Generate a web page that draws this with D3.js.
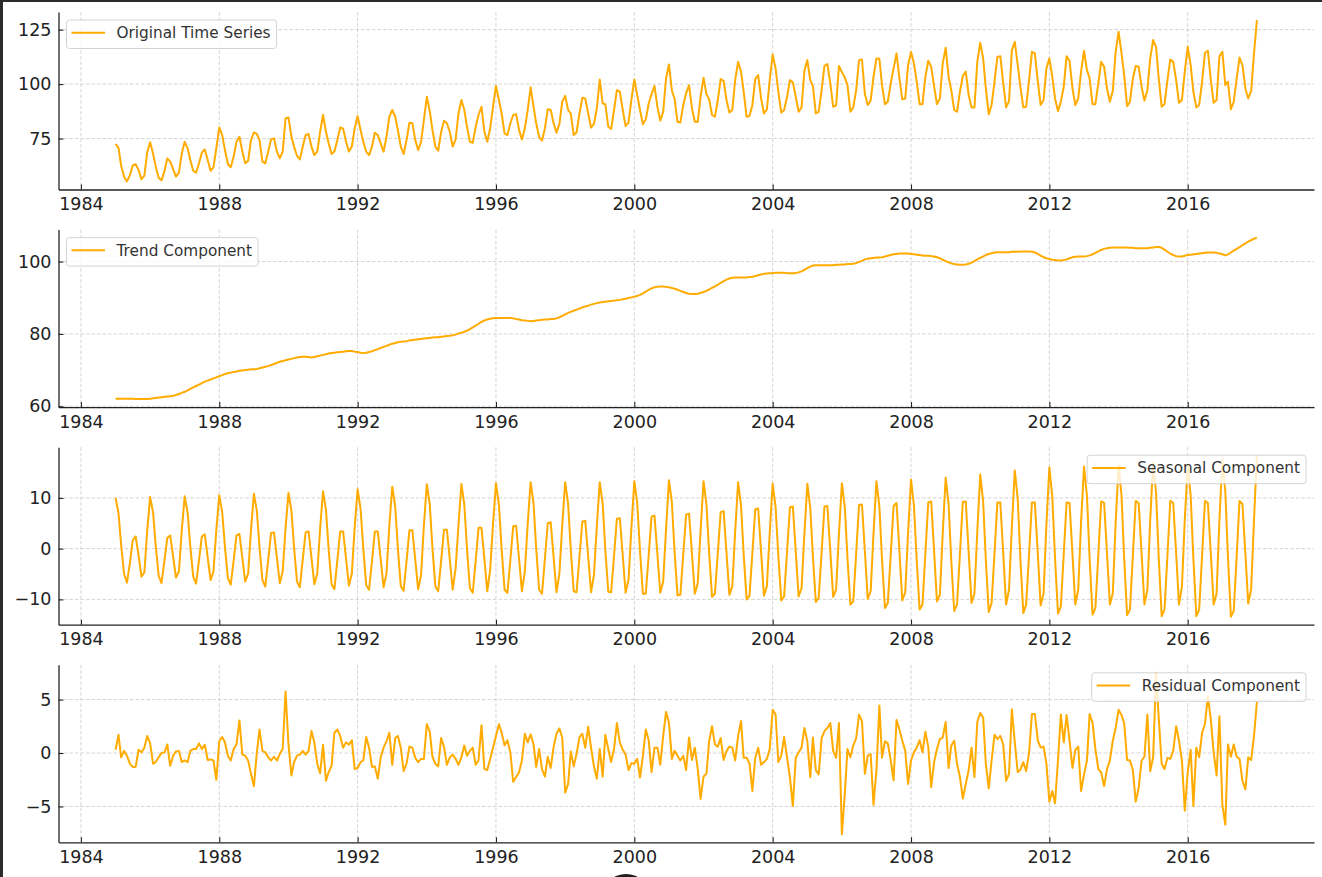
<!DOCTYPE html>
<html>
<head>
<meta charset="utf-8">
<script src="https://d3js.org/d3.v7.min.js"></script>
<style>
  body { margin: 0; background: #fff; overflow: hidden; }
  text { font-family: "DejaVu Sans", sans-serif; }
</style>
</head>
<body>
<div id="chart"></div>
<script>
// monthly series, Jan 1985 .. Jan 2018 (one row per year)
var startDate = new Date(1985, 0, 1);

var original = [
  72.5, 70.7, 62.5, 57.5, 55.3, 58.1, 62.6, 63.2, 60.6, 56.3, 58.0, 68.7,
  73.3, 68.0, 62.2, 57.0, 55.8, 59.9, 65.8, 64.5, 61.0, 57.5, 59.3, 68.1,
  73.5, 70.5, 65.1, 60.2, 59.3, 63.6, 68.5, 70.0, 65.1, 60.2, 61.8, 70.5,
  80.1, 76.6, 69.7, 63.3, 61.8, 66.7, 73.5, 75.8, 69.0, 63.6, 64.8, 74.3,
  77.8, 77.1, 74.3, 64.4, 63.6, 69.0, 74.6, 75.1, 69.0, 65.9, 69.0, 84.2,
  84.7, 75.8, 71.3, 67.0, 65.4, 71.3, 76.6, 77.1, 71.3, 67.4, 69.0, 78.1,
  85.8, 78.1, 72.8, 67.9, 69.0, 74.3, 80.1, 79.5, 73.5, 69.0, 71.3, 79.7,
  85.3, 78.9, 73.5, 69.0, 67.4, 71.3, 77.7, 76.6, 72.8, 69.0, 75.8, 85.0,
  88.1, 85.0, 78.9, 71.3, 67.9, 74.3, 82.3, 82.0, 74.3, 69.7, 73.5, 83.5,
  94.2, 87.5, 79.0, 71.3, 69.4, 78.0, 83.2, 82.0, 78.0, 71.3, 74.6, 86.5,
  92.7, 88.1, 80.4, 73.5, 73.1, 80.4, 85.8, 89.6, 78.1, 73.5, 79.7, 89.6,
  99.1, 92.7, 86.5, 77.4, 76.6, 82.0, 85.8, 86.2, 78.9, 74.6, 79.7, 88.1,
  98.5, 89.6, 82.0, 75.8, 74.0, 79.7, 88.5, 88.1, 82.0, 77.7, 81.7, 91.9,
  94.6, 88.1, 86.5, 76.6, 77.8, 86.5, 93.7, 93.4, 86.5, 80.0, 81.7, 88.8,
  102.1, 91.1, 90.8, 80.4, 79.4, 88.1, 97.2, 96.5, 88.1, 80.7, 82.3, 92.7,
  102.1, 95.0, 88.1, 81.5, 83.8, 91.1, 95.4, 99.1, 89.6, 83.2, 87.3, 102.6,
  109.0, 96.9, 93.4, 82.7, 82.4, 90.4, 95.7, 99.5, 88.8, 82.7, 82.7, 94.2,
  102.9, 95.4, 93.1, 85.8, 85.0, 92.7, 102.3, 101.5, 92.7, 86.9, 88.1, 101.8,
  110.2, 105.7, 96.5, 85.0, 85.3, 90.4, 102.3, 104.1, 93.4, 86.5, 88.4, 101.8,
  113.6, 107.2, 96.5, 86.9, 88.1, 94.2, 101.8, 100.8, 94.2, 87.3, 89.3, 106.1,
  111.0, 101.8, 99.1, 86.5, 87.2, 97.2, 108.4, 109.2, 100.3, 89.6, 90.2, 108.3,
  105.5, 103.0, 99.5, 87.3, 89.3, 97.2, 111.0, 111.3, 95.4, 90.4, 92.4, 103.4,
  111.8, 111.6, 99.5, 90.8, 91.9, 100.3, 107.2, 114.1, 102.6, 93.0, 93.4, 108.7,
  114.8, 109.5, 101.1, 90.8, 90.8, 103.4, 110.7, 108.0, 98.8, 90.8, 93.4, 109.5,
  116.7, 103.4, 97.2, 88.1, 87.3, 96.5, 103.7, 105.7, 95.0, 89.3, 89.3, 110.2,
  119.0, 111.8, 98.0, 86.2, 90.4, 101.1, 112.5, 112.8, 100.3, 89.3, 92.2, 115.6,
  119.4, 108.7, 98.8, 89.3, 89.6, 101.8, 114.8, 114.1, 101.1, 90.4, 92.7, 107.2,
  111.8, 103.4, 93.4, 87.6, 91.9, 98.8, 112.8, 110.7, 98.0, 90.4, 93.4, 105.7,
  115.3, 106.4, 102.6, 90.8, 90.8, 100.3, 110.2, 108.0, 98.0, 91.9, 96.9, 114.8,
  124.0, 114.1, 104.1, 89.9, 91.9, 102.6, 108.3, 108.0, 98.8, 92.4, 97.2, 111.8,
  120.2, 117.1, 102.6, 89.6, 90.8, 101.8, 111.3, 110.2, 101.8, 91.4, 92.7, 105.7,
  117.1, 108.7, 96.5, 89.3, 90.4, 101.1, 114.4, 115.3, 101.8, 91.4, 92.7, 112.8,
  114.8, 99.5, 101.1, 88.4, 91.9, 102.6, 112.2, 108.7, 98.0, 93.4, 96.9, 114.1,
  129.4
];

var trend = [
  62.1, 62.1, 62.1, 62.1, 62.1, 62.1, 62.1, 62.0, 62.0, 62.0, 62.0, 62.0,
  62.1, 62.2, 62.3, 62.4, 62.5, 62.6, 62.7, 62.8, 62.9, 63.1, 63.4, 63.7,
  64.0, 64.4, 64.8, 65.2, 65.6, 66.0, 66.4, 66.8, 67.1, 67.4, 67.7, 68.0,
  68.3, 68.6, 68.9, 69.1, 69.3, 69.5, 69.6, 69.8, 69.9, 70.0, 70.1, 70.2,
  70.2, 70.3, 70.5, 70.7, 70.9, 71.1, 71.4, 71.7, 72.0, 72.3, 72.5, 72.7,
  72.9, 73.1, 73.3, 73.5, 73.6, 73.7, 73.7, 73.6, 73.5, 73.6, 73.8, 74.0,
  74.2, 74.4, 74.6, 74.7, 74.8, 74.9, 75.0, 75.1, 75.2, 75.3, 75.3, 75.1,
  75.0, 74.8, 74.7, 74.8, 75.0, 75.2, 75.5, 75.8, 76.1, 76.4, 76.7, 77.0,
  77.3, 77.5, 77.7, 77.8, 77.9, 78.0, 78.2, 78.3, 78.4, 78.5, 78.6, 78.7,
  78.8, 78.9, 79.0, 79.1, 79.1, 79.2, 79.3, 79.4, 79.5, 79.6, 79.8, 80.1,
  80.3, 80.6, 80.9, 81.3, 81.8, 82.3, 82.8, 83.3, 83.7, 84.0, 84.2, 84.3,
  84.4, 84.4, 84.4, 84.4, 84.4, 84.4, 84.3, 84.1, 84.0, 83.8, 83.7, 83.6,
  83.5, 83.6, 83.7, 83.8, 83.9, 84.0, 84.0, 84.1, 84.1, 84.3, 84.6, 85.0,
  85.4, 85.8, 86.1, 86.4, 86.7, 87.0, 87.3, 87.6, 87.8, 88.1, 88.3, 88.5,
  88.7, 88.8, 88.9, 89.0, 89.1, 89.2, 89.3, 89.4, 89.6, 89.7, 89.9, 90.1,
  90.3, 90.5, 90.8, 91.2, 91.7, 92.2, 92.6, 92.9, 93.0, 93.1, 93.1, 93.0,
  92.9, 92.7, 92.5, 92.2, 91.9, 91.6, 91.3, 91.1, 91.0, 91.0, 91.1, 91.3,
  91.6, 91.9, 92.3, 92.7, 93.1, 93.6, 94.1, 94.6, 95.0, 95.3, 95.5, 95.6,
  95.6, 95.6, 95.6, 95.6, 95.7, 95.8, 96.0, 96.2, 96.4, 96.6, 96.7, 96.8,
  96.8, 96.9, 96.9, 96.9, 96.9, 96.8, 96.8, 96.8, 96.8, 97.0, 97.3, 97.7,
  98.2, 98.6, 98.9, 99.0, 99.0, 99.0, 99.0, 99.0, 99.0, 99.0, 99.1, 99.1,
  99.2, 99.2, 99.3, 99.3, 99.4, 99.6, 99.9, 100.2, 100.6, 100.8, 100.9, 101.0,
  101.1, 101.1, 101.2, 101.4, 101.6, 101.8, 102.0, 102.1, 102.2, 102.2, 102.2, 102.2,
  102.1, 102.0, 101.9, 101.8, 101.7, 101.6, 101.6, 101.5, 101.4, 101.2, 100.9, 100.5,
  100.1, 99.8, 99.5, 99.3, 99.2, 99.1, 99.1, 99.2, 99.4, 99.7, 100.1, 100.6,
  101.0, 101.4, 101.8, 102.1, 102.3, 102.5, 102.6, 102.6, 102.6, 102.6, 102.6, 102.7,
  102.7, 102.7, 102.8, 102.8, 102.8, 102.8, 102.7, 102.5, 102.1, 101.6, 101.2, 100.9,
  100.7, 100.5, 100.4, 100.3, 100.3, 100.4, 100.6, 100.9, 101.2, 101.3, 101.4, 101.4,
  101.4, 101.5, 101.7, 102.0, 102.4, 102.8, 103.2, 103.5, 103.7, 103.8, 103.9, 103.9,
  103.9, 103.9, 103.9, 103.9, 103.8, 103.8, 103.7, 103.7, 103.7, 103.7, 103.7, 103.8,
  103.9, 104.0, 104.0, 103.8, 103.3, 102.7, 102.2, 101.8, 101.5, 101.4, 101.4, 101.6,
  101.8, 101.9, 102.0, 102.1, 102.2, 102.3, 102.4, 102.5, 102.5, 102.5, 102.4, 102.2,
  102.0, 101.7, 102.0, 102.5, 103.0, 103.5, 104.0, 104.5, 105.0, 105.5, 105.9, 106.3,
  106.6
];

var seasonal = [
  10.0, 7.0, 0.7, -5.0, -6.7, -2.9, 1.6, 2.4, -1.3, -5.5, -4.7, 3.5,
  10.2, 7.1, 0.6, -5.3, -6.8, -2.4, 2.1, 2.6, -1.6, -5.7, -4.5, 3.6,
  10.3, 7.1, 0.5, -5.5, -6.9, -2.3, 2.4, 2.8, -1.7, -6.2, -4.5, 3.7,
  10.5, 7.2, 0.4, -5.8, -7.1, -2.3, 2.6, 2.9, -1.8, -6.5, -4.9, 3.7,
  10.8, 7.4, 0.3, -6.2, -7.5, -2.2, 3.1, 3.2, -1.8, -6.8, -4.5, 4.0,
  11.0, 7.5, 0.2, -6.5, -7.6, -2.1, 3.2, 3.4, -1.8, -7.0, -4.9, 4.0,
  11.3, 7.6, -0.1, -7.0, -8.0, -2.3, 3.4, 3.4, -2.0, -7.3, -4.9, 4.2,
  11.7, 7.9, 0.0, -7.2, -8.1, -2.4, 3.4, 3.4, -2.1, -7.6, -4.9, 4.5,
  12.2, 8.3, 0.1, -7.4, -8.3, -2.4, 3.6, 3.6, -2.2, -8.0, -5.2, 4.6,
  12.7, 8.7, 0.2, -7.4, -8.4, -2.4, 3.7, 3.7, -2.2, -8.1, -3.9, 4.5,
  12.75, 8.6, 0.0, -7.8, -8.7, -2.3, 4.1, 4.1, -2.1, -8.4, -4.2, 4.8,
  12.9, 8.7, -0.1, -8.1, -8.7, -2.2, 4.4, 4.5, -2.0, -8.4, -4.5, 4.8,
  13.1, 8.9, 0.0, -8.1, -8.9, -2.0, 5.0, 5.2, -1.7, -8.6, -4.9, 4.6,
  13.1, 8.8, -0.2, -8.4, -8.6, -1.6, 5.3, 5.5, -1.6, -8.6, -5.2, 4.4,
  13.1, 8.8, -0.3, -8.5, -8.6, -1.4, 5.9, 6.0, -1.4, -8.7, -6.1, 4.0,
  13.3, 8.9, -0.5, -8.9, -8.9, -1.3, 6.3, 6.5, -1.1, -8.7, -6.5, 3.8,
  13.5, 9.0, -0.6, -9.2, -9.1, -1.2, 6.7, 6.9, -1.0, -8.9, -6.8, 3.6,
  13.3, 8.7, -0.8, -9.5, -8.9, -0.8, 7.2, 7.4, -0.9, -9.1, -7.4, 3.3,
  13.1, 8.5, -1.2, -10.0, -9.3, -0.8, 7.7, 7.9, -0.7, -9.3, -7.4, 3.1,
  12.8, 8.2, -1.5, -10.2, -9.4, -0.6, 8.1, 8.3, -0.6, -9.4, -7.8, 2.9,
  12.8, 8.1, -1.6, -10.5, -9.7, -0.7, 8.3, 8.4, -0.6, -9.5, -8.1, 2.9,
  12.9, 8.1, -1.9, -11.0, -10.4, -0.9, 8.6, 8.7, -0.6, -9.9, -8.4, 3.0,
  13.3, 8.3, -2.2, -11.7, -10.7, -1.2, 8.4, 9.0, -0.6, -10.2, -8.6, 3.1,
  13.6, 8.5, -2.3, -12.0, -11.0, -0.9, 9.1, 9.3, -0.6, -10.4, -9.1, 3.0,
  14.0, 8.7, -2.3, -12.3, -11.0, -0.9, 9.2, 9.3, -0.7, -10.7, -8.8, 3.4,
  14.6, 9.2, -2.2, -12.5, -10.7, -0.8, 9.1, 9.1, -1.0, -11.0, -8.1, 4.3,
  15.4, 9.8, -2.0, -12.7, -11.0, -1.0, 9.1, 9.1, -1.0, -11.2, -8.8, 4.8,
  16.0, 10.2, -1.9, -12.8, -11.4, -1.1, 9.1, 9.0, -1.0, -11.0, -8.1, 5.3,
  16.2, 10.4, -1.9, -13.0, -11.7, -1.2, 9.3, 9.0, -1.0, -11.0, -8.8, 5.1,
  16.4, 10.5, -1.9, -13.1, -12.0, -1.3, 9.4, 9.0, -1.0, -11.0, -8.1, 5.6,
  16.9, 10.9, -1.8, -13.3, -12.0, -1.3, 9.4, 9.0, -1.0, -11.0, -7.5, 5.7,
  16.5, 10.5, -2.0, -13.3, -12.0, -1.3, 9.4, 9.0, -1.0, -11.0, -8.8, 5.7,
  17.5, 11.3, -1.7, -13.4, -12.3, -1.5, 9.4, 8.8, -1.0, -10.8, -8.0, 5.7,
  18.4
];

var residual = [
  0.3, 1.7, -0.4, 0.2, -0.25, -1.0, -1.3, -1.3, 0.3, 0.06, 0.5, 1.6,
  0.9, -1.0, -0.85, -0.4, 0.0, 0.06, 0.8, -1.2, -0.25, 0.15, 0.2, -0.85,
  -0.7, -0.85, 0.2, 0.37, 0.37, 0.9, 0.37, 0.77, -0.65, -0.6, -0.7, -2.5,
  1.1, 1.5, 1.0, -0.25, -0.7, 0.37, 0.8, 3.05, -0.15, -0.25, -0.7, -1.95,
  -3.1, 0.06, 2.2, 0.2, 0.06, -0.4, -0.7, -0.35, -0.7, -0.1, 0.37, 5.75,
  0.8, -2.1, -0.85, -0.25, -0.15, 0.2, -0.15, 0.2, 2.05, 1.0, -1.0, -1.9,
  0.77, -2.6, -1.8, -1.2, 1.9, 2.2, 1.6, 0.5, 1.0, 0.77, 1.2, -1.5,
  -1.4, -0.85, -0.7, 1.5, 0.5, -1.3, -1.25, -2.4, -0.4, 0.5, 1.1, 1.9,
  -1.1, 1.4, 1.6, 0.5, -1.7, -1.0, 0.6, 0.5, -0.45, -0.85, -0.55, -0.55,
  2.7, 2.0, -0.35, -1.0, -1.25, 1.4, 0.6, -1.1, -0.4, -0.15, -0.55, -1.1,
  -0.4, 0.7, -0.25, 0.2, 0.5, -1.1, -0.7, 2.6, -1.5, -1.6, -0.55, 0.5,
  1.6, 2.7, 1.9, 0.7, 1.2, 0.06, -2.7, -2.25, -1.8, -0.7, 1.8, 1.0,
  1.75, 0.8, -1.3, 0.37, -1.5, -2.2, -0.35, -1.4, 0.6, 1.8, 2.3, 1.45,
  -3.7, -2.9, 0.15, -1.25, -0.1, 1.5, 1.8, 0.5, 2.45, 0.5, -1.25, -2.4,
  0.37, -2.2, 1.7, 0.37, -0.85, 0.37, 2.8, 1.0, 0.3, -0.15, -1.6, -0.95,
  -1.0, -0.55, -2.3, -0.25, 2.2, 1.2, -1.8, 0.5, 0.5, -1.1, 1.6, 3.85,
  2.8, -0.55, 0.2, -0.25, -0.7, -0.25, -1.6, 1.45, -0.65, 0.5, -1.5, -4.3,
  -2.2, -1.95, 1.1, 2.5, 0.8, 0.6, 1.4, -0.65, 0.2, 0.6, 0.5, -0.7,
  1.6, 3.0, -0.45, -0.45, -0.95, -3.55, -0.45, 0.5, -1.1, -0.85, -0.55, 0.37,
  4.05, 3.6, -0.85, -0.25, 1.5, -0.4, -2.25, -4.95, -0.45, 0.06, 0.5, 2.35,
  1.1, -2.25, 1.45, -1.6, -2.0, 1.4, 2.05, 2.35, 2.8, 0.2, -0.45, 2.8,
  -7.6, -3.8, 0.37, -0.4, 0.7, 1.4, 3.6, 3.0, -1.95, -0.25, -0.1, -4.85,
  -1.6, 4.45, -0.45, 1.1, 0.9, -0.7, -2.55, 3.1, 2.2, 1.15, 0.2, -2.9,
  -0.7, 0.06, 0.5, 1.2, 0.06, 2.0, 0.6, -3.2, -0.85, 0.37, 1.3, 1.45,
  2.9, -1.4, 0.7, 1.15, -1.0, -2.25, -4.25, -2.9, -1.6, 0.5, -2.25, 2.9,
  3.75, 3.3, -1.0, -3.3, -0.7, 1.7, 1.3, 1.6, 0.8, -2.6, -1.95, 4.1,
  1.0, -1.8, -1.55, -0.85, -1.7, 0.06, 3.65, 3.65, 1.15, 0.5, 0.6, -1.0,
  -4.55, -3.55, -4.7, -0.7, 3.6, 1.0, 3.55, 1.15, -1.4, 0.3, 0.6, -3.55,
  -2.0, -0.7, 3.65, 2.85, 0.37, -1.5, -1.8, -3.1, -1.5, -0.7, 1.15, 2.35,
  4.05, 3.55, 2.8, -0.65, -0.7, -1.6, -4.55, -3.3, -0.7, -0.35, 3.6, -1.7,
  -0.4, 7.5, 3.3, -1.0, -1.5, -0.45, -0.55, 0.2, 2.5, 1.15, -0.7, -5.4,
  -1.8, 0.3, -4.95, 0.5, -0.4, 1.9, 2.7, 5.3, 3.15, 0.06, -2.1, 3.45,
  -4.85, -6.7, 0.8, -0.35, 0.8, -0.35, -0.55, -2.6, -3.4, -0.4, -0.65, 1.6,
  4.8
];

// tick labels
var xTickYears = [1984, 1988, 1992, 1996, 2000, 2004, 2008, 2012, 2016];
var yTicksOriginal = [75, 100, 125];
var yTicksTrend = [60, 80, 100];
var yTicksSeasonal = [-10, 0, 10];
var yTicksResidual = [-5, 0, 5];

var labels = ["Original Time Series", "Trend Component", "Seasonal Component", "Residual Component"];

// one entry per subplot
var panels = [
  { label: labels[0], values: original, ticks: yTicksOriginal, legendRight: false },
  { label: labels[1], values: trend, ticks: yTicksTrend, legendRight: false },
  { label: labels[2], values: seasonal, ticks: yTicksSeasonal, legendRight: true },
  { label: labels[3], values: residual, ticks: yTicksResidual, legendRight: true }
];

var svgWidth = 1322;
var svgHeight = 877;
var lineColor = "#ffab00";

var margin = { left: 58.5, right: 8, top: 12 };
var panelHeight = 177.5;
var panelStep = 217.6;
var width = svgWidth - margin.left - margin.right;

var svg = d3.select("#chart")
  .append("svg")
  .attr("width", svgWidth)
  .attr("height", svgHeight);

svg.append("rect")
  .attr("width", svgWidth)
  .attr("height", svgHeight)
  .attr("fill", "#fff");

// dates shared by all series
var dates = original.map((d, i) => d3.timeMonth.offset(startDate, i));

// x scale with matplotlib style 5% margins
var tExtent = d3.extent(dates);
var tPad = (tExtent[1] - tExtent[0]) * 0.05;
var xScale = d3.scaleTime()
  .domain([new Date(+tExtent[0] - tPad), new Date(+tExtent[1] + tPad)])
  .range([0, width]);

var xTickDates = xTickYears.map(y => new Date(y, 0, 1));

var minusFormat = d => (d < 0 ? "\u2212" + Math.abs(d) : String(d));

panels.forEach(function(p, i) {
  var g = svg.append("g")
    .attr("transform", `translate(${margin.left}, ${margin.top + i * panelStep})`);

  var ext = d3.extent(p.values);
  var pad = (ext[1] - ext[0]) * 0.05;
  var yScale = d3.scaleLinear()
    .domain([ext[0] - pad, ext[1] + pad])
    .range([panelHeight, 0]);

  // grid
  g.append("g").selectAll("line")
    .data(xTickDates)
    .enter().append("line")
    .attr("x1", d => xScale(d)).attr("x2", d => xScale(d))
    .attr("y1", 0).attr("y2", panelHeight)
    .attr("stroke", "#cfcfcf")
    .attr("stroke-width", 0.9)
    .attr("stroke-dasharray", "3.5,2");

  g.append("g").selectAll("line")
    .data(p.ticks)
    .enter().append("line")
    .attr("x1", 0).attr("x2", width)
    .attr("y1", d => yScale(d)).attr("y2", d => yScale(d))
    .attr("stroke", "#cfcfcf")
    .attr("stroke-width", 0.9)
    .attr("stroke-dasharray", "3.5,2");

  // series line
  var line = d3.line()
    .x((d, j) => xScale(dates[j]))
    .y(d => yScale(d));

  g.append("path")
    .datum(p.values)
    .attr("d", line)
    .attr("fill", "none")
    .attr("stroke", lineColor)
    .attr("stroke-width", 2)
    .attr("stroke-linejoin", "round");

  // axes, ticks pointing inwards
  var xAxis = d3.axisBottom(xScale)
    .tickValues(xTickDates)
    .tickFormat(d3.timeFormat("%Y"))
    .tickSizeInner(-5)
    .tickSizeOuter(0)
    .tickPadding(8);

  var yAxis = d3.axisLeft(yScale)
    .tickValues(p.ticks)
    .tickFormat(minusFormat)
    .tickSizeInner(-5)
    .tickSizeOuter(0)
    .tickPadding(7);

  var gx = g.append("g")
    .attr("transform", `translate(0, ${panelHeight})`)
    .call(xAxis);

  var gy = g.append("g").call(yAxis);

  [gx, gy].forEach(function(ax) {
    ax.select(".domain").attr("stroke", "#222").attr("stroke-width", 1.3);
    ax.selectAll(".tick line").attr("stroke", "#222").attr("stroke-width", 1.1);
    ax.selectAll(".tick text")
      .attr("fill", "#222")
      .style("font-size", "17.5px")
      .style("font-family", "DejaVu Sans");
  });

  // legend
  var lg = g.append("g");
  var lgBox = lg.append("rect")
    .attr("rx", 3).attr("ry", 3)
    .attr("fill", "#fff")
    .attr("fill-opacity", 0.8)
    .attr("stroke", "#d3d3d3")
    .attr("stroke-width", 1);
  lg.append("line")
    .attr("x1", 5).attr("x2", 38.5)
    .attr("y1", 12.7).attr("y2", 12.7)
    .attr("stroke", lineColor)
    .attr("stroke-width", 2);
  var lgText = lg.append("text")
    .attr("x", 50)
    .attr("y", 18)
    .attr("fill", "#333")
    .style("font-size", "15.3px")
    .text(p.label);

  var boxW = 50 + lgText.node().getComputedTextLength() + 6;
  lgBox.attr("width", boxW).attr("height", 28.5);
  var lx = p.legendRight ? width - 8 - boxW : 8;
  lg.attr("transform", `translate(${lx}, 8)`);
});

// window frame and the dark round control at the bottom of the screenshot
svg.append("rect").attr("x", 0).attr("y", 0).attr("width", 3).attr("height", svgHeight).attr("fill", "#2b2b2b");
svg.append("rect").attr("x", 0).attr("y", 0).attr("width", svgWidth).attr("height", 2).attr("fill", "#2b2b2b");
svg.append("circle").attr("cx", 626).attr("cy", 898).attr("r", 24).attr("fill", "#1e1e1e");
</script>
</body>
</html>
